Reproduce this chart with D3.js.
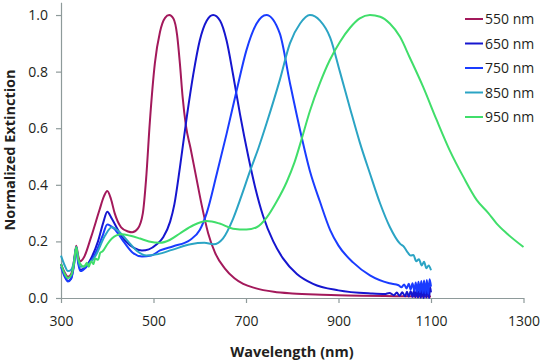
<!DOCTYPE html>
<html>
<head>
<meta charset="utf-8">
<script src="https://cdn.jsdelivr.net/npm/d3@7/dist/d3.min.js"></script>
<style>
  html, body { margin: 0; padding: 0; background: #fff; }
  svg { display: block; }
  text { font-family: "Open Sans", "Noto Sans", sans-serif; fill: #231f20; }
</style>
</head>
<body>
<svg id="chart" width="542" height="360"></svg>
<script>
// ---- Data ----
const seriesLabels = ["550 nm", "650 nm", "750 nm", "850 nm", "950 nm"];
const seriesColors = ["#a3195b", "#1616cf", "#1a3cff", "#2ba4c4", "#40de6a"];
const xTicks = [300, 500, 700, 900, 1100, 1300];
const yTicks = [0.0, 0.2, 0.4, 0.6, 0.8, 1.0];

const wl550 = [300, 308, 315, 322, 328, 333, 337, 342, 350, 365, 383, 393, 400, 408, 416, 430, 445, 454, 466, 477, 484, 492, 503, 514, 525, 534, 543, 551, 557, 563, 570, 580, 592, 604, 618, 633, 654, 675, 694, 720, 760, 800, 850, 900, 950, 1000, 1050, 1100];
const ext550 = [0.12, 0.09, 0.075, 0.085, 0.13, 0.185, 0.15, 0.13, 0.145, 0.215, 0.31, 0.36, 0.378, 0.35, 0.30, 0.25, 0.235, 0.232, 0.245, 0.30, 0.42, 0.62, 0.83, 0.94, 0.99, 1.0, 0.988, 0.93, 0.83, 0.71, 0.61, 0.53, 0.43, 0.33, 0.23, 0.16, 0.105, 0.07, 0.05, 0.035, 0.022, 0.016, 0.012, 0.01, 0.008, 0.007, 0.006, 0.005];

const wl650 = [300, 308, 315, 322, 328, 333, 337, 342, 350, 365, 380, 392, 400, 410, 425, 440, 460, 475, 490, 507, 521, 536, 545, 557, 572, 586, 600, 615, 629, 644, 658, 672, 687, 705, 720, 737, 759, 780, 810, 845, 900, 970, 1000, 1010, 1020, 1026, 1032, 1038, 1044, 1048, 1052, 1056, 1060, 1063, 1066, 1069, 1072, 1075, 1078, 1081, 1084, 1087, 1090, 1093, 1096, 1098, 1100];
const ext650 = [0.12, 0.08, 0.06, 0.07, 0.12, 0.18, 0.13, 0.10, 0.105, 0.14, 0.20, 0.27, 0.305, 0.28, 0.235, 0.20, 0.175, 0.168, 0.172, 0.19, 0.215, 0.27, 0.33, 0.46, 0.64, 0.79, 0.91, 0.98, 1.0, 0.98, 0.91, 0.79, 0.65, 0.50, 0.39, 0.29, 0.20, 0.14, 0.085, 0.05, 0.027, 0.016, 0.014, 0.018, 0.01, 0.019, 0.008, 0.02, 0.006, 0.022, 0.005, 0.024, 0.004, 0.026, 0.003, 0.028, 0.002, 0.03, 0.001, 0.033, 0.0, 0.035, 0.002, 0.038, 0.0, 0.04, 0.02];

const wl750 = [300, 308, 315, 322, 328, 333, 337, 342, 355, 375, 390, 400, 415, 435, 455, 475, 495, 514, 543, 579, 600, 615, 637, 658, 680, 701, 723, 744, 773, 795, 816, 838, 860, 882, 900, 932, 968, 1010, 1030, 1036, 1042, 1047, 1052, 1056, 1060, 1064, 1067, 1070, 1073, 1076, 1079, 1082, 1085, 1088, 1091, 1094, 1097, 1100];
const ext750 = [0.11, 0.075, 0.058, 0.068, 0.115, 0.18, 0.125, 0.095, 0.11, 0.16, 0.22, 0.26, 0.245, 0.20, 0.16, 0.147, 0.15, 0.168, 0.183, 0.205, 0.24, 0.30, 0.44, 0.58, 0.735, 0.876, 0.97, 1.0, 0.935, 0.76, 0.60, 0.45, 0.34, 0.24, 0.185, 0.125, 0.08, 0.052, 0.045, 0.038, 0.048, 0.034, 0.05, 0.03, 0.052, 0.026, 0.055, 0.022, 0.057, 0.02, 0.06, 0.018, 0.062, 0.016, 0.064, 0.015, 0.066, 0.04];

const wl850 = [300, 308, 315, 322, 328, 333, 338, 342, 355, 375, 395, 410, 425, 445, 465, 485, 510, 540, 580, 610, 630, 650, 672, 690, 709, 727, 745, 773, 795, 817, 838, 860, 882, 903, 925, 946, 968, 990, 1011, 1033, 1042, 1050, 1056, 1062, 1068, 1074, 1080, 1085, 1090, 1095, 1100];
const ext850 = [0.15, 0.115, 0.095, 0.10, 0.13, 0.18, 0.13, 0.11, 0.115, 0.15, 0.22, 0.25, 0.235, 0.20, 0.165, 0.15, 0.155, 0.17, 0.19, 0.195, 0.19, 0.21, 0.28, 0.36, 0.45, 0.53, 0.62, 0.77, 0.90, 0.97, 1.0, 0.98, 0.92, 0.80, 0.67, 0.55, 0.44, 0.334, 0.251, 0.192, 0.18, 0.16, 0.15, 0.152, 0.13, 0.137, 0.115, 0.128, 0.105, 0.115, 0.098];

const wl950 = [300, 308, 315, 322, 328, 333, 337, 342, 350, 356, 360, 365, 370, 374, 380, 385, 390, 400, 410, 430, 450, 471, 490, 514, 535, 557, 586, 615, 643, 672, 701, 723, 745, 766, 788, 805, 820, 838, 860, 881, 903, 925, 946, 968, 990, 1011, 1033, 1054, 1083, 1112, 1141, 1170, 1199, 1224, 1242, 1264, 1300];
const ext950 = [0.12, 0.085, 0.07, 0.08, 0.12, 0.18, 0.14, 0.12, 0.11, 0.125, 0.11, 0.13, 0.12, 0.14, 0.135, 0.16, 0.165, 0.19, 0.21, 0.225, 0.22, 0.21, 0.2, 0.195, 0.205, 0.228, 0.257, 0.272, 0.263, 0.245, 0.242, 0.25, 0.285, 0.34, 0.41, 0.48, 0.56, 0.66, 0.76, 0.84, 0.905, 0.955, 0.988, 1.0, 0.994, 0.97, 0.923, 0.85, 0.746, 0.63, 0.52, 0.428, 0.346, 0.30, 0.263, 0.228, 0.18];

const wavelengths = [wl550, wl650, wl750, wl850, wl950];
const extinctions = [ext550, ext650, ext750, ext850, ext950];

// ---- Layout ----
const svg = d3.select("#chart");
const x = d3.scaleLinear().domain([300, 1300]).range([61, 523.5]);
const y = d3.scaleLinear().domain([0, 1.045]).range([298, 2.3]);
const axisColor = "#8e9a9a";

const series = seriesLabels.map((label, i) => ({
  label, color: seriesColors[i],
  points: wavelengths[i].map((w, j) => [w, extinctions[i][j]])
}));

// Axes
const yAxis = svg.append("g").attr("transform", `translate(${x(300)},0)`)
  .call(d3.axisLeft(y).tickValues(yTicks).tickFormat(d3.format(".1f")).tickSize(5).tickSizeOuter(0).tickPadding(8));
const xAxis = svg.append("g").attr("transform", `translate(0,${y(0)})`)
  .call(d3.axisBottom(x).tickValues(xTicks).tickFormat(d3.format("d")).tickSize(5).tickSizeOuter(0).tickPadding(13));
[xAxis, yAxis].forEach(g => {
  g.selectAll("path, line").attr("stroke", axisColor).attr("stroke-width", 1.2);
  g.selectAll("text").attr("font-size", 14).attr("fill", "#231f20")
    .attr("font-family", "'Open Sans', sans-serif");
});

// Lines
const line = d3.line().x(d => x(d[0])).y(d => y(d[1])).curve(d3.curveMonotoneX);
svg.append("g").selectAll("path").data(series).join("path")
  .attr("d", d => line(d.points))
  .attr("fill", "none")
  .attr("stroke", d => d.color)
  .attr("stroke-width", 2)
  .attr("stroke-linejoin", "round");

// Axis titles
svg.append("text").attr("x", 292).attr("y", 357).attr("text-anchor", "middle")
  .attr("font-size", 14.5).attr("font-weight", "bold").text("Wavelength (nm)");
svg.append("text").attr("transform", "translate(15,150) rotate(-90)").attr("text-anchor", "middle")
  .attr("font-size", 14.5).attr("font-weight", "bold").text("Normalized Extinction");

// Legend
const legend = svg.append("g");
series.forEach((s, i) => {
  const ly = 19 + i * 24.5;
  legend.append("line").attr("x1", 465).attr("x2", 483).attr("y1", ly).attr("y2", ly)
    .attr("stroke", s.color).attr("stroke-width", 2);
  legend.append("text").attr("x", 485).attr("y", ly + 5).attr("font-size", 14).text(s.label);
});
</script>
</body>
</html>
